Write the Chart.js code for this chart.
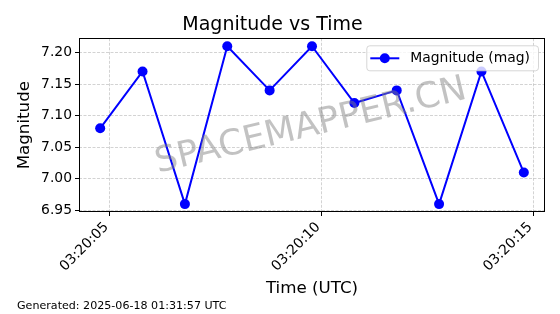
<!DOCTYPE html>
<html>
<head>
<meta charset="utf-8">
<script src="https://cdn.jsdelivr.net/npm/chart.js@4"></script>
<style>
  html, body { margin: 0; padding: 0; background: #fff; }
  #wrap { width: 560px; height: 314px; position: relative; }
</style>
</head>
<body>
<div id="wrap"><canvas id="grafica"></canvas></div>
<script>
// datos (segundos despues de 03:20:00)
var segundos = [4.78, 5.78, 6.78, 7.78, 8.78, 9.78, 10.78, 11.78, 12.78, 13.78, 14.78];
var magnitudes = [7.08, 7.17, 6.96, 7.21, 7.14, 7.21, 7.12, 7.14, 6.96, 7.17, 7.01];

var xTickValues = [5, 10, 15];
var xTickLabels = ['03:20:05', '03:20:10', '03:20:15'];
var yTicks = [6.95, 7.00, 7.05, 7.10, 7.15, 7.20];

var serieLabel = 'Magnitude (mag)';
var titulo = 'Magnitude vs Time';
var marcaAgua = 'SPACEMAPPER.CN';
var pie = 'Generated: 2025-06-18 01:31:57 UTC';

Chart.defaults.font.family = 'DejaVu Sans';
Chart.defaults.color = '#000';

var puntos = segundos.map(function (s, i) { return { x: s, y: magnitudes[i] }; });

// marco completo del eje
var marco = {
    id: 'marco',
    beforeDatasetsDraw: function (chart) {
        var a = chart.chartArea, ctx = chart.ctx;
        ctx.save();
        ctx.strokeStyle = '#000';
        ctx.lineWidth = 1;
        ctx.strokeRect(Math.round(a.left) + 0.5, Math.round(a.top) + 0.5,
            Math.round(a.right - a.left) - 1, Math.round(a.bottom - a.top) - 1);
        ctx.restore();
    }
};

var agua = {
    id: 'agua',
    afterDatasetsDraw: function (chart) {
        var a = chart.chartArea, ctx = chart.ctx;
        ctx.save();
        ctx.translate((a.left + a.right) / 2 + 1, a.top + (a.bottom - a.top) * 0.56);
        ctx.rotate(-13.5 * Math.PI / 180);
        ctx.font = '35.5px "DejaVu Sans"';
        ctx.fillStyle = 'rgba(128,128,128,0.48)';
        ctx.textAlign = 'center';
        ctx.textBaseline = 'alphabetic';
        ctx.fillText(marcaAgua, 0, 0);
        ctx.restore();
    }
};

var leyenda = {
    id: 'leyenda',
    afterDraw: function (chart) {
        var a = chart.chartArea, ctx = chart.ctx;
        ctx.save();
        ctx.font = '13.9px "DejaVu Sans"';
        var tw = ctx.measureText(serieLabel).width;
        var right = a.right - 7;
        var x = right - 8 - tw - 44, y = a.top + 7, h = 25, w = right - x;
        ctx.beginPath();
        ctx.roundRect(x + 0.5, y + 0.5, w, h, 3);
        ctx.fillStyle = 'rgba(255,255,255,0.8)';
        ctx.fill();
        ctx.strokeStyle = 'rgba(204,204,204,0.8)';
        ctx.lineWidth = 1;
        ctx.stroke();
        var ly = y + h / 2 + 0.5;
        ctx.strokeStyle = 'blue';
        ctx.lineWidth = 2;
        ctx.beginPath();
        ctx.moveTo(x + 4, ly);
        ctx.lineTo(x + 33, ly);
        ctx.stroke();
        ctx.fillStyle = 'blue';
        ctx.beginPath();
        ctx.arc(x + 18.5, ly, 5, 0, Math.PI * 2);
        ctx.fill();
        ctx.fillStyle = '#000';
        ctx.textBaseline = 'middle';
        ctx.fillText(serieLabel, x + 44, ly);
        ctx.restore();
    }
};

var piePagina = {
    id: 'piePagina',
    afterDraw: function (chart) {
        var ctx = chart.ctx;
        ctx.save();
        ctx.font = '11.1px "DejaVu Sans"';
        ctx.fillStyle = '#000';
        ctx.textBaseline = 'alphabetic';
        ctx.fillText(pie, 17, 309);
        ctx.restore();
    }
};

var ctx = document.getElementById('grafica').getContext('2d');
var chart = new Chart(ctx, {
    type: 'line',
    data: {
        datasets: [{
            label: serieLabel,
            data: puntos,
            borderColor: 'blue',
            backgroundColor: 'blue',
            borderWidth: 2,
            pointRadius: 5,
            pointHoverRadius: 5,
            pointBorderWidth: 0,
            tension: 0,
            fill: false
        }]
    },
    options: {
        responsive: true,
        maintainAspectRatio: false,
        animation: false,
        layout: { padding: { left: 0, right: 15, top: 0, bottom: 0 } },
        plugins: {
            legend: { display: false },
            tooltip: { enabled: false },
            title: {
                display: true,
                text: titulo,
                font: { size: 19, weight: 'normal', lineHeight: 1.2 },
                padding: { top: 13.5, bottom: 2 }
            }
        },
        scales: {
            x: {
                type: 'linear',
                min: 4.28,
                max: 15.28,
                afterBuildTicks: function (scale) {
                    scale.ticks = xTickValues.map(function (v) { return { value: v }; });
                },
                afterFit: function (scale) { scale.height = 102; },
                ticks: {
                    autoSkip: false,
                    minRotation: 45,
                    maxRotation: 45,
                    padding: 3,
                    labelOffset: -3,
                    font: { size: 13.9 },
                    callback: function (v) {
                        var i = xTickValues.indexOf(v);
                        return i >= 0 ? xTickLabels[i] : '';
                    }
                },
                grid: {
                    color: 'rgba(176,176,176,0.7)',
                    lineWidth: 0.8,
                    tickColor: '#000',
                    tickLength: 4,
                    tickWidth: 1,
                    tickBorderDash: []
                },
                border: { display: false, dash: [3, 1.5] },
                title: {
                    display: true,
                    text: 'Time (UTC)',
                    font: { size: 16.7, lineHeight: 1.2 },
                    padding: { top: 0, bottom: 15 }
                }
            },
            y: {
                min: 6.9475,
                max: 7.2225,
                afterBuildTicks: function (scale) {
                    scale.ticks = yTicks.map(function (v) { return { value: v }; });
                },
                afterFit: function (scale) { scale.width = 79; },
                ticks: {
                    padding: 3,
                    font: { size: 13.9 },
                    callback: function (v) { return v.toFixed(2); }
                },
                grid: {
                    color: 'rgba(176,176,176,0.7)',
                    lineWidth: 0.8,
                    tickColor: '#000',
                    tickLength: 4,
                    tickWidth: 1,
                    tickBorderDash: []
                },
                border: { display: false, dash: [3, 1.5] },
                title: {
                    display: true,
                    text: 'Magnitude',
                    font: { size: 16.7, lineHeight: 1.2 },
                    padding: { top: 15, bottom: 0 }
                }
            }
        }
    },
    plugins: [marco, agua, leyenda, piePagina]
});
</script>
</body>
</html>
